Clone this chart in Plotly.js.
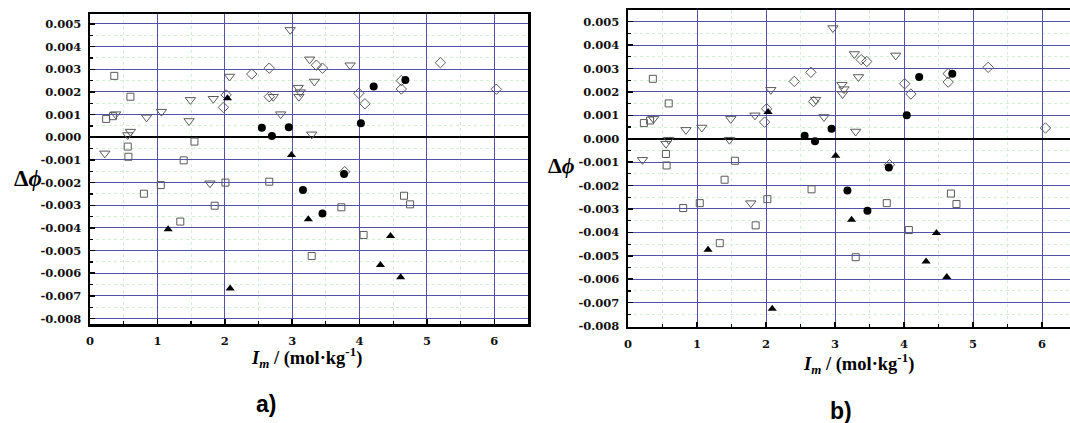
<!DOCTYPE html>
<html>
<head>
<meta charset="utf-8">
<script src="https://cdn.plot.ly/plotly-3.0.1.min.js"></script>
<style>
html,body{margin:0;padding:0;overflow:hidden;background:#fff;}
#chart{width:1085px;height:423px;}
</style>
</head>
<body>
<div id="chart"></div>
<script>
// ---------- Panel a) data ----------
const aSqX = [0.36,0.60,0.24,0.34,0.56,0.57,1.55,1.39,0.80,1.05,1.34,1.85,2.01,2.66,3.73,3.29,4.06,4.66,4.75];
const aSqY = [0.00271,0.00179,0.00081,0.00093,-0.00041,-0.00086,-0.00019,-0.00102,-0.00249,-0.00211,-0.00372,-0.00302,-0.00200,-0.00196,-0.00309,-0.00524,-0.00431,-0.00258,-0.00296];

const aTdX = [0.22,0.38,0.56,0.60,0.84,1.06,1.47,1.49,1.83,2.07,1.78,2.97,3.26,3.86,3.33,3.09,3.12,3.10,2.72,2.83,3.29];
const aTdY = [-0.00071,0.00102,0.00010,0.00025,0.00088,0.00113,0.00072,0.00165,0.00170,0.00268,-0.00203,0.00474,0.00344,0.00318,0.00246,0.00219,0.00199,0.00179,0.00179,0.00102,0.00013];

const aDiX = [2.02,1.98,2.40,2.66,2.66,3.36,3.45,3.99,4.08,4.62,4.62,5.20,6.03,3.78];
const aDiY = [0.00187,0.00132,0.00279,0.00305,0.00179,0.00318,0.00305,0.00194,0.00148,0.00250,0.00213,0.00329,0.00212,-0.00152];

const aCiX = [2.55,2.70,2.95,4.02,4.21,4.68,3.77,3.16,3.45];
const aCiY = [0.00042,0.00006,0.00044,0.00062,0.00224,0.00253,-0.00162,-0.00233,-0.00336];

const aTuX = [2.04,2.99,1.16,2.08,3.24,4.46,4.31,4.61];
const aTuY = [0.00172,-0.00078,-0.00406,-0.00667,-0.00362,-0.00436,-0.00564,-0.00618];

// ---------- Panel b) data ----------
const bSqX = [0.36,0.59,0.23,0.32,0.55,0.56,1.55,0.80,1.04,1.40,1.33,1.85,2.02,2.66,3.75,3.30,4.07,4.68,4.76];
const bSqY = [0.00256,0.00151,0.00067,0.00078,-0.00065,-0.00114,-0.00094,-0.00296,-0.00275,-0.00175,-0.00446,-0.00370,-0.00258,-0.00216,-0.00275,-0.00506,-0.00390,-0.00234,-0.00279];

const bTdX = [0.21,0.37,0.59,0.55,0.84,1.07,1.47,1.49,1.84,2.07,1.78,2.97,3.28,3.88,3.34,3.10,3.13,3.11,2.72,2.84,3.30];
const bTdY = [-0.00090,0.00085,-0.00004,-0.00021,0.00038,0.00048,-0.00004,0.00085,0.00100,0.00209,-0.00275,0.00473,0.00362,0.00356,0.00264,0.00231,0.00212,0.00191,0.00167,0.00093,0.00031];

const bDiX = [2.01,1.98,2.41,2.65,2.69,3.38,3.46,4.01,4.10,4.64,4.64,5.22,6.05,3.79];
const bDiY = [0.00128,0.00071,0.00245,0.00284,0.00159,0.00338,0.00330,0.00235,0.00191,0.00278,0.00242,0.00305,0.00046,-0.00111];

const bCiX = [2.56,2.71,2.95,4.04,4.22,4.70,3.78,3.18,3.47];
const bCiY = [0.00013,-0.00011,0.00043,0.00100,0.00264,0.00278,-0.00123,-0.00221,-0.00308];

const bTuX = [2.03,3.01,1.16,2.09,3.24,4.47,4.32,4.62];
const bTuY = [0.00114,-0.00073,-0.00474,-0.00726,-0.00346,-0.00403,-0.00524,-0.00591];

// ---------- Tick labels ----------
const yTickVals = [0.005,0.004,0.003,0.002,0.001,0,-0.001,-0.002,-0.003,-0.004,-0.005,-0.006,-0.007,-0.008];
const yTickText = ['0.005','0.004','0.003','0.002','0.001','0.000','-0.001','-0.002','-0.003','-0.004','-0.005','-0.006','-0.007','-0.008'];
const xTickVals = [0,1,2,3,4,5,6];
const xTickText = ['0','1','2','3','4','5','6'];

const xTitle = '<b><i>I</i><sub><i>m</i></sub> / (mol·kg<sup>-1</sup>)</b>';
const yTitle = '<b>Δ<i>ϕ</i></b>';

// minor ticks/grid halfway between the major ticks
const xMinor = xTickVals.map(v => v + 0.5);
const yMinor = yTickVals.map(v => v - 0.0005);

// ---------- Styling ----------
const W = 1085, H = 423;
const openCol = '#5a5a5a';
const tickFont = {family:'DejaVu Serif', size:11.5, color:'#111', weight:'bold'};
const majorGrid = '#5252aa';
const minorGrid = '#d2f0d2';

function mk(x, y, sym, size, filled, xa, ya){
  return {
    x:x, y:y, xaxis:xa, yaxis:ya, type:'scatter', mode:'markers', hoverinfo:'skip',
    marker: filled
      ? {symbol:sym, size:size, color:'#000', line:{width:0}}
      : {symbol:sym, size:size, color:openCol, line:{width:1, color:openCol}}
  };
}

const traces = [
  mk(aSqX,aSqY,'square-open',7,false,'x','y'),
  mk(aTdX,aTdY,'triangle-down-open',9,false,'x','y'),
  mk(aDiX,aDiY,'diamond-open',8,false,'x','y'),
  mk(aCiX,aCiY,'circle',8,true,'x','y'),
  mk(aTuX,aTuY,'triangle-up',8,true,'x','y'),
  mk(bSqX,bSqY,'square-open',7,false,'x2','y2'),
  mk(bTdX,bTdY,'triangle-down-open',9,false,'x2','y2'),
  mk(bDiX,bDiY,'diamond-open',8,false,'x2','y2'),
  mk(bCiX,bCiY,'circle',8,true,'x2','y2'),
  mk(bTuX,bTuY,'triangle-up',8,true,'x2','y2')
];

function xAxis(d0, d1, anchor){
  return {
    domain:[d0/W, d1/W], anchor:anchor, range:[0,6.5], fixedrange:true,
    tickmode:'array', tickvals:xTickVals, ticktext:xTickText,
    ticks:'inside', ticklen:5, tickwidth:1.5, tickcolor:'#000',
    showline:true, mirror:true, linewidth:2.5, linecolor:'#000',
    showgrid:true, gridcolor:majorGrid, gridwidth:1, zeroline:false,
    tickfont:tickFont, ticklabelstandoff:5,
    minor:{tickmode:'array', tickvals:xMinor, ticks:'inside', ticklen:3, tickwidth:1.2, tickcolor:'#000',
           showgrid:true, gridcolor:minorGrid, griddash:'dot', gridwidth:1}
  };
}
function yAxis(top, bot, r0, r1, anchor){
  return {
    domain:[(H-bot)/H, (H-top)/H], anchor:anchor, range:[r0,r1], fixedrange:true,
    tickmode:'array', tickvals:yTickVals, ticktext:yTickText,
    ticks:'inside', ticklen:5, tickwidth:1.5, tickcolor:'#000',
    showline:true, mirror:true, linewidth:2.5, linecolor:'#000',
    showgrid:true, gridcolor:majorGrid, gridwidth:1,
    zeroline:true, zerolinecolor:'#000', zerolinewidth:2,
    tickfont:tickFont, ticklabelstandoff:4,
    minor:{tickmode:'array', tickvals:yMinor, ticks:'inside', ticklen:3, tickwidth:1.2, tickcolor:'#000',
           showgrid:true, gridcolor:minorGrid, griddash:'dot', gridwidth:1}
  };
}

function ann(text, px, py, size, family){
  return {text:text, xref:'paper', yref:'paper', x:px/W, y:(H-py)/H, xanchor:'center', yanchor:'middle',
          showarrow:false, font:{family:family, size:size, color:'#000'}};
}

const layout = {
  width:W, height:H, margin:{l:0,r:0,t:0,b:0}, showlegend:false,
  paper_bgcolor:'#fff', plot_bgcolor:'#fff',
  xaxis: xAxis(90, 528, 'y'),
  yaxis: yAxis(14, 324, -0.00824, 0.00544, 'x'),
  xaxis2: xAxis(628, 1076.5, 'y2'),
  yaxis2: yAxis(10, 326.5, -0.00802, 0.0055, 'x2'),
  annotations:[
    ann(yTitle, 28, 179, 23, 'Liberation Serif'),
    ann(yTitle, 561, 165, 22, 'Liberation Serif'),
    ann(xTitle, 306, 357, 18.5, 'Liberation Serif'),
    ann(xTitle, 858, 363, 18.5, 'Liberation Serif'),
    ann('<b>a)</b>', 266, 404, 23, 'Liberation Sans'),
    ann('<b>b)</b>', 841, 411, 23, 'Liberation Sans')
  ]
};

Plotly.newPlot('chart', traces, layout, {displayModeBar:false, staticPlot:true});
</script>
</body>
</html>
